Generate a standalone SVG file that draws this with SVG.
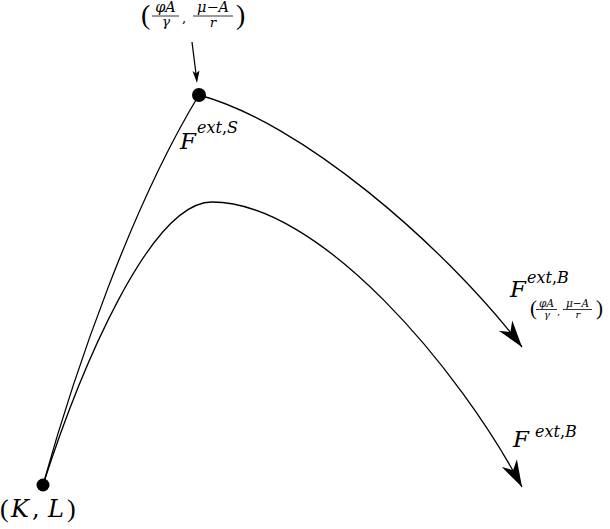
<svg xmlns="http://www.w3.org/2000/svg" width="610" height="529" viewBox="0 0 610 529">
<style>
.c{fill:none;stroke:#000;stroke-width:1.3}
.m{font-family:"DejaVu Serif",serif;font-style:italic;fill:#000}
.u{font-family:"DejaVu Serif",serif;font-style:normal;fill:#000}
.p{font-family:"Liberation Serif",serif;font-style:normal;fill:#000}
.bar{stroke:#000;stroke-width:0.8}
</style>
<defs>
<marker id="st" markerUnits="userSpaceOnUse" markerWidth="30" markerHeight="20" viewBox="-28 -10 30 20" refX="0" refY="0" orient="auto">
<path d="M0,0 L-27,-8.5 L-19,0 L-27,8.5 Z" fill="#000"/>
</marker>
</defs>
<g id="connectors">
<path class="c" d="M43,485 C75,370 132,205 199,95"/>
<path class="c" d="M199,95 C300,122 442,243 522,347" marker-end="url(#st)"/>
<path class="c" d="M43,485 C80,370 150,202 212,202 C320,202 460,370 522,487" marker-end="url(#st)"/>
<line class="c" x1="192" y1="42" x2="196" y2="74"/>
<path d="M197,83 L192.5,71 L196,73.5 L199.5,70.5 Z" fill="#000"/>
</g>
<g id="node-KL">
<circle cx="43" cy="485" r="6.5" fill="#000"/>
<text y="517" font-size="24"><tspan class="p" x="0" font-size="26">(</tspan><tspan class="m" x="11">K</tspan><tspan class="u" x="32">,</tspan><tspan class="m" x="48">L</tspan><tspan class="p" x="67" font-size="26">)</tspan></text>
</g>
<g id="node-S">
<circle cx="199" cy="95" r="7" fill="#000"/>
<text class="m" x="180" y="149" font-size="23">F</text>
<text y="133" font-size="16" x="197"><tspan class="m">ext</tspan><tspan class="u">,</tspan><tspan class="m">S</tspan></text>
</g>
<g id="label-top">
<text class="p" x="141" y="24" font-size="28">(</text>
<text class="m" x="165.5" y="12" font-size="14.5" text-anchor="middle">φA</text>
<line class="bar" x1="152" y1="16" x2="179" y2="16"/>
<text class="m" x="166" y="26" font-size="13.5" text-anchor="middle">γ</text>
<text class="u" x="182" y="22" font-size="13">,</text>
<text x="213" y="12" font-size="14.5" text-anchor="middle"><tspan class="m">μ</tspan><tspan class="u">−</tspan><tspan class="m">A</tspan></text>
<line class="bar" x1="193" y1="16" x2="233" y2="16"/>
<text class="m" x="213" y="27" font-size="13.5" text-anchor="middle">r</text>
<text class="p" x="236" y="24" font-size="28">)</text>
</g>
<g id="label-B1">
<text class="m" x="510" y="297" font-size="23">F</text>
<text y="283" font-size="16" x="527"><tspan class="m">ext</tspan><tspan class="u">,</tspan><tspan class="m">B</tspan></text>
<text class="p" x="530" y="315" font-size="21">(</text>
<text class="m" x="546.5" y="307" font-size="10.5" text-anchor="middle">φA</text>
<line class="bar" x1="536" y1="309.5" x2="557" y2="309.5"/>
<text class="m" x="547" y="318" font-size="10" text-anchor="middle">γ</text>
<text class="u" x="557" y="315" font-size="10">,</text>
<text x="577.5" y="307" font-size="10.5" text-anchor="middle"><tspan class="m">μ</tspan><tspan class="u">−</tspan><tspan class="m">A</tspan></text>
<line class="bar" x1="563" y1="309.5" x2="592" y2="309.5"/>
<text class="m" x="578" y="318" font-size="10" text-anchor="middle">r</text>
<text class="p" x="596" y="315" font-size="21">)</text>
</g>
<g id="label-B2">
<text class="m" x="513" y="447" font-size="23">F</text>
<text y="437" font-size="16" x="535"><tspan class="m">ext</tspan><tspan class="u">,</tspan><tspan class="m">B</tspan></text>
</g>
</svg>
